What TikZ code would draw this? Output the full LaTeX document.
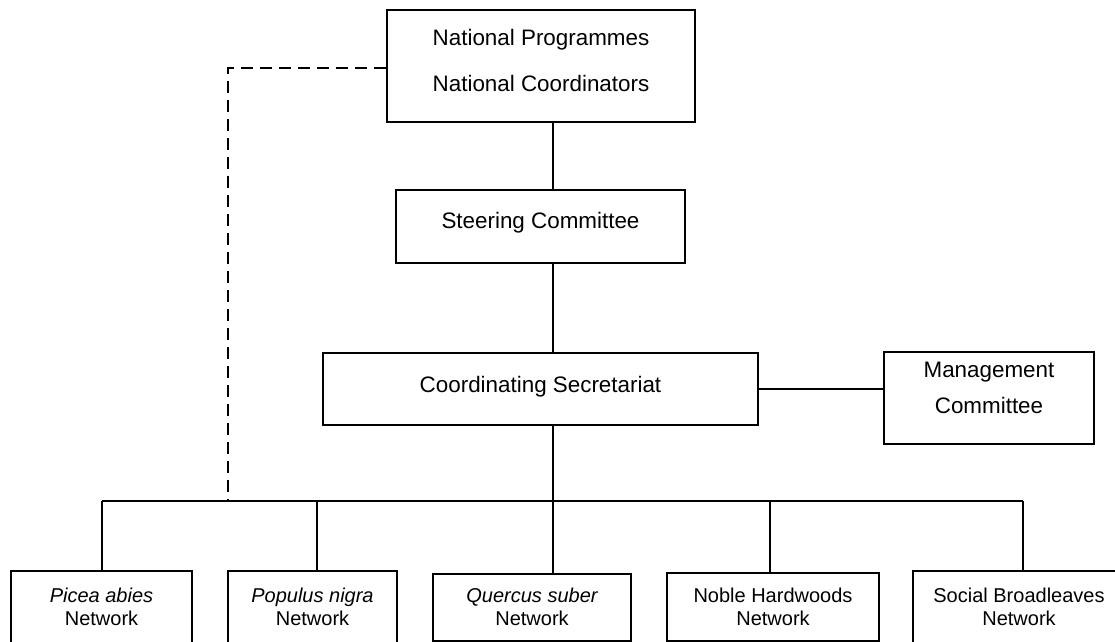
\documentclass[tikz,border=0pt]{standalone}
\usepackage{fontspec}
\setmainfont{Liberation Sans}
\begin{document}
\begin{tikzpicture}[x=0.75pt,y=-0.75pt,
  line width=1.5pt,
  boxnode/.style={draw, line width=1.5pt, rectangle, inner sep=0pt},
  bigtext/.style={align=center, inner sep=0pt, font=\fontsize{16.8}{20}\selectfont},
  smalltext/.style={align=center, inner sep=0pt, font=\fontsize{15}{17.25}\selectfont},
  link/.style={line width=1.5pt},
  dlink/.style={line width=1.5pt, dash pattern=on 9pt off 5.25pt}]
\useasboundingbox (0,0) rectangle (1115,642);
\clip (0,0) rectangle (1115,642);
% boxes
\node[boxnode, minimum width=231pt, minimum height=84pt] (np) at (541,66) {};
\node[boxnode, minimum width=216.75pt, minimum height=54.75pt] (sc) at (540.5,226.5) {};
\node[boxnode, minimum width=326.25pt, minimum height=54pt] (cs) at (540.5,389) {};
\node[boxnode, minimum width=157.5pt, minimum height=69pt] (mc) at (989,398) {};
\node[boxnode, minimum width=135.75pt, minimum height=67.5pt] (pa) at (101.5,616) {};
\node[boxnode, minimum width=126.75pt, minimum height=67.5pt] (pn) at (312.5,616) {};
\node[boxnode, minimum width=148.5pt, minimum height=50.25pt] (qs) at (532,607.5) {};
\node[boxnode, minimum width=159pt, minimum height=51pt] (nh) at (773,607) {};
\node[boxnode, minimum width=159pt, minimum height=67.5pt] (sb) at (1019,616) {};
% texts
\node[bigtext] (npt1) at (541,40) {National Programmes};
\node[bigtext] (npt2) at (541,83) {National Coordinators};
\node[bigtext] (sct) at (540.5,223) {Steering Committee};
\node[bigtext] (cst) at (540.5,387) {Coordinating Secretariat};
\node[bigtext] (mct1) at (989,372) {Management};
\node[bigtext] (mct2) at (989,405) {Committee};
\node[smalltext] (pat) at (101.5,607) {\itshape Picea abies\\Network};
\node[smalltext] (pnt) at (312.5,607) {\itshape Populus nigra\\Network};
\node[smalltext] (qst) at (532,607) {\itshape Quercus suber\\Network};
\node[smalltext] (nht) at (773,607) {Noble Hardwoods\\Network};
\node[smalltext] (sbt) at (1019,607) {Social Broadleaves\\Network};
% coordinates
\coordinate (spine) at (553,0);
\coordinate (barL) at (102,501);
\coordinate (barR) at (1023,501);
\coordinate (dpn) at (317,501);
\coordinate (dqs) at (553,501);
\coordinate (dnh) at (770,501);
\coordinate (dk) at (228,68);
% connectors
\draw[link] (np.south -| spine) -- (sc.north -| spine);
\draw[link] (sc.south -| spine) -- (cs.north -| spine);
\draw[link] (cs.east) -- (cs.east -| mc.west);
\draw[link] (cs.south -| spine) -- (dqs);
\draw[link] (barL) -- (barR);
\draw[link] (barL) -- (pa.north -| barL);
\draw[link] (dpn) -- (pn.north -| dpn);
\draw[link] (dqs) -- (qs.north -| dqs);
\draw[link] (dnh) -- (nh.north -| dnh);
\draw[link] (barR) -- (sb.north -| barR);
\draw[dlink] (np.west |- dk) -- (dk) -- (dk |- barL);
\end{tikzpicture}
\end{document}
